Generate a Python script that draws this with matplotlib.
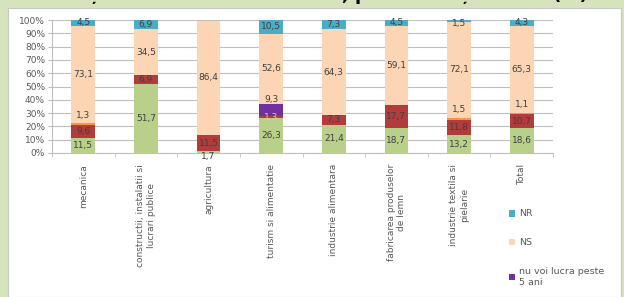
import matplotlib.pyplot as plt
import numpy as np
from matplotlib.patches import Rectangle

categories = ['mecanica', 'constructii, instalatii si\nlucrari publice', 'agricultura',
              'turism si alimentatie', 'industrie alimentara',
              'fabricarea produselor\nde lemn', 'industrie textila si\npielarie', 'Total']

# stacked from bottom to top
voi_lucra = [11.5, 51.7, 1.7, 26.3, 21.4, 18.7, 13.2, 18.6]
lucra_1_5 = [9.6, 6.9, 11.5, 1.3, 7.3, 17.7, 11.8, 10.7]
lucra_peste_5 = [1.3, 0, 0, 0, 0, 0, 1.5, 1.1]
nu_voi_lucra = [0, 0, 0, 9.3, 0, 0, 0, 0]
ns = [73.1, 34.5, 86.4, 52.6, 64.3, 59.1, 72.1, 65.3]
nr = [4.5, 6.9, 0, 10.5, 7.3, 4.5, 1.5, 4.3]

series = [
    ('voi lucra toata viata', voi_lucra, '#b9d08b'),
    ('voi lucra 1-5 ani', lucra_1_5, '#b23b3b'),
    ('voi lucra peste 5 ani', lucra_peste_5, '#f79646'),
    ('nu voi lucra peste 5 ani', nu_voi_lucra, '#7030a0'),
    ('NS', ns, '#fcd5b5'),
    ('NR', nr, '#4bacc6'),
]

W, H = 624, 297
fig = plt.figure(figsize=(W / 100, H / 100), dpi=100)
fig.patch.set_facecolor('#d6e3bc')
fig.patches.append(Rectangle((8 / W, 0), 613 / W, 1 - 8 / H, transform=fig.transFigure,
                             facecolor='white', edgecolor='#c8c8c8', lw=0.8, zorder=-5))
# title is mostly cut off by the top edge in the original
fig.text(0.5, 1 - 0.5 / H, 'Intenția de a lucra în domeniu, pe ramuri și vârstă (%)',
         ha='center', va='baseline', fontsize=13, fontweight='bold', color='black')

ax = fig.add_axes([52 / W, (H - 153) / H, 501 / W, 133 / H])
ax.set_facecolor('white')
x = np.arange(len(categories))
bottom = np.zeros(len(categories))
handles = []
for si, (name, vals, col) in enumerate(series):
    vals = np.array(vals, dtype=float)
    b = ax.bar(x, vals, 0.38, bottom=bottom, color=col, label=name, zorder=3)
    handles.append(b)
    for i, v in enumerate(vals):
        if v <= 0:
            continue
        txt = f'{v:.1f}'.replace('.', ',')
        tc = '#404040'
        if name == 'NR':
            y = bottom[i] + v / 2 if v > 3 else 97
        elif v < 2 and si == 0:
            y = -2.5
        elif v < 2 and si == 1:
            y = bottom[i] + v / 2
            tc = '#e6cf7a'
        elif v < 2:
            y = bottom[i] + v + 6
        elif name == 'nu voi lucra peste 5 ani':
            y = bottom[i] + v + 3
        else:
            y = bottom[i] + v / 2
        ax.text(i, y, txt, ha='center', va='center', fontsize=6.5, color=tc,
                zorder=4, clip_on=False)
    bottom += vals

ax.set_xlim(-0.5, len(categories) - 0.5)
ax.set_ylim(0, 100)
ax.set_yticks(np.arange(0, 101, 10))
ax.set_yticklabels([f'{t}%' for t in range(0, 101, 10)], fontsize=6.5, color='#595959')
ax.yaxis.grid(True, color='#bfbfbf', lw=0.8, zorder=0)
ax.set_xticks(x)
ax.set_xticklabels(categories, rotation=90, fontsize=6.5, color='#595959',
                   va='top', ha='center', multialignment='center')
ax.set_xticks(np.arange(-0.5, len(categories)), minor=True)
ax.tick_params(axis='x', which='major', length=0, pad=8)
ax.tick_params(axis='x', which='minor', length=3, color='#bfbfbf')
ax.tick_params(axis='y', length=3, color='#bfbfbf', pad=2)
for s in ['top', 'right']:
    ax.spines[s].set_visible(False)
ax.spines['left'].set_color('#bfbfbf')
ax.spines['bottom'].set_color('#bfbfbf')

fig.legend(handles[::-1], [s[0] for s in series][::-1], loc='upper left',
           bbox_to_anchor=(500 / W, 1 - 201 / H), frameon=False, fontsize=6.8,
           labelcolor='#595959', handlelength=0.7, handleheight=0.7,
           handletextpad=0.4, labelspacing=2.1)
# wrap the long legend entry like the original
for t in fig.legends[0].get_texts():
    if t.get_text() == 'nu voi lucra peste 5 ani':
        t.set_text('nu voi lucra peste\n5 ani')

fig.savefig('out.png', dpi=100, facecolor=fig.get_facecolor())
